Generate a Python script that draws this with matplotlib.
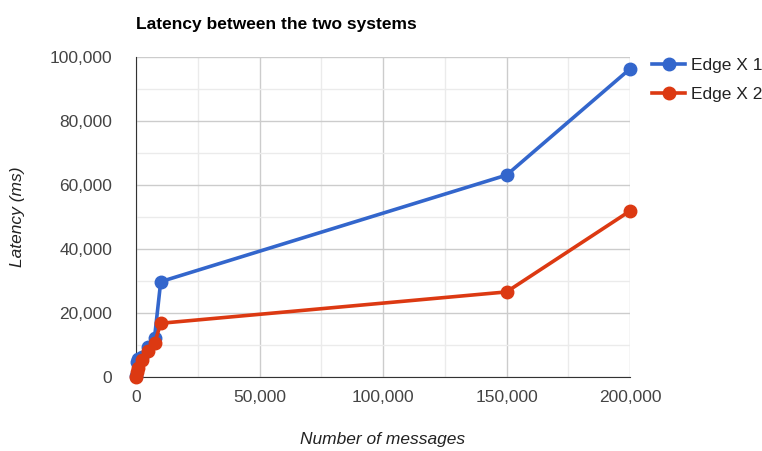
import matplotlib.pyplot as plt
from matplotlib.ticker import FuncFormatter, MultipleLocator

plt.rcParams['font.family'] = ['Liberation Sans', 'DejaVu Sans']

messages = [10, 500, 1000, 2500, 5000, 7500, 10000, 150000, 200000]
edge_x1 = [300, 4800, 5500, 6200, 9500, 12300, 29800, 63100, 96300]
edge_x2 = [100, 1500, 2800, 5300, 8000, 10500, 16800, 26600, 51900]

fig = plt.figure(figsize=(7.62, 4.51), dpi=100)
ax = fig.add_axes([0.1785, 0.164, 0.6483, 0.7096])

ax.plot(messages, edge_x1, color='#3366cc', lw=2.6, marker='o', ms=9, label='Edge X 1', zorder=3, clip_on=False)
ax.plot(messages, edge_x2, color='#dc3912', lw=2.6, marker='o', ms=9, label='Edge X 2', zorder=4, clip_on=False)

ax.set_xlim(0, 200000)
ax.set_ylim(0, 100000)
ax.xaxis.set_major_locator(MultipleLocator(50000))
ax.xaxis.set_minor_locator(MultipleLocator(25000))
ax.yaxis.set_major_locator(MultipleLocator(20000))
ax.yaxis.set_minor_locator(MultipleLocator(10000))
fmt = FuncFormatter(lambda v, p: '{:,.0f}'.format(v))
ax.xaxis.set_major_formatter(fmt)
ax.yaxis.set_major_formatter(fmt)

ax.grid(which='major', color='#cccccc', lw=1)
ax.grid(which='minor', color='#ebebeb', lw=1)
ax.set_axisbelow(True)
for s in ['top', 'right']:
    ax.spines[s].set_visible(False)
ax.spines['left'].set_color('#333333')
ax.spines['bottom'].set_color('#333333')
ax.tick_params(which='both', length=0, labelsize=12.5, labelcolor='#444444')
ax.tick_params(axis='y', pad=17)
ax.tick_params(axis='x', pad=9)

ax.set_xlabel('Number of messages', fontsize=12.5, style='italic', color='#222222', labelpad=20)
ax.set_ylabel('Latency (ms)', fontsize=12.5, style='italic', color='#222222', labelpad=18)
fig.text(0.1785, 0.945, 'Latency between the two systems', fontsize=12.5, fontweight='bold',
         color='#000000', va='center')

ax.legend(loc='upper left', bbox_to_anchor=(1.02, 1.034), frameon=False, fontsize=12.5,
          handlelength=1.9, handletextpad=0.35, borderaxespad=0.3, labelspacing=0.75,
          labelcolor='#222222')

fig.savefig('out.png', dpi=100)
